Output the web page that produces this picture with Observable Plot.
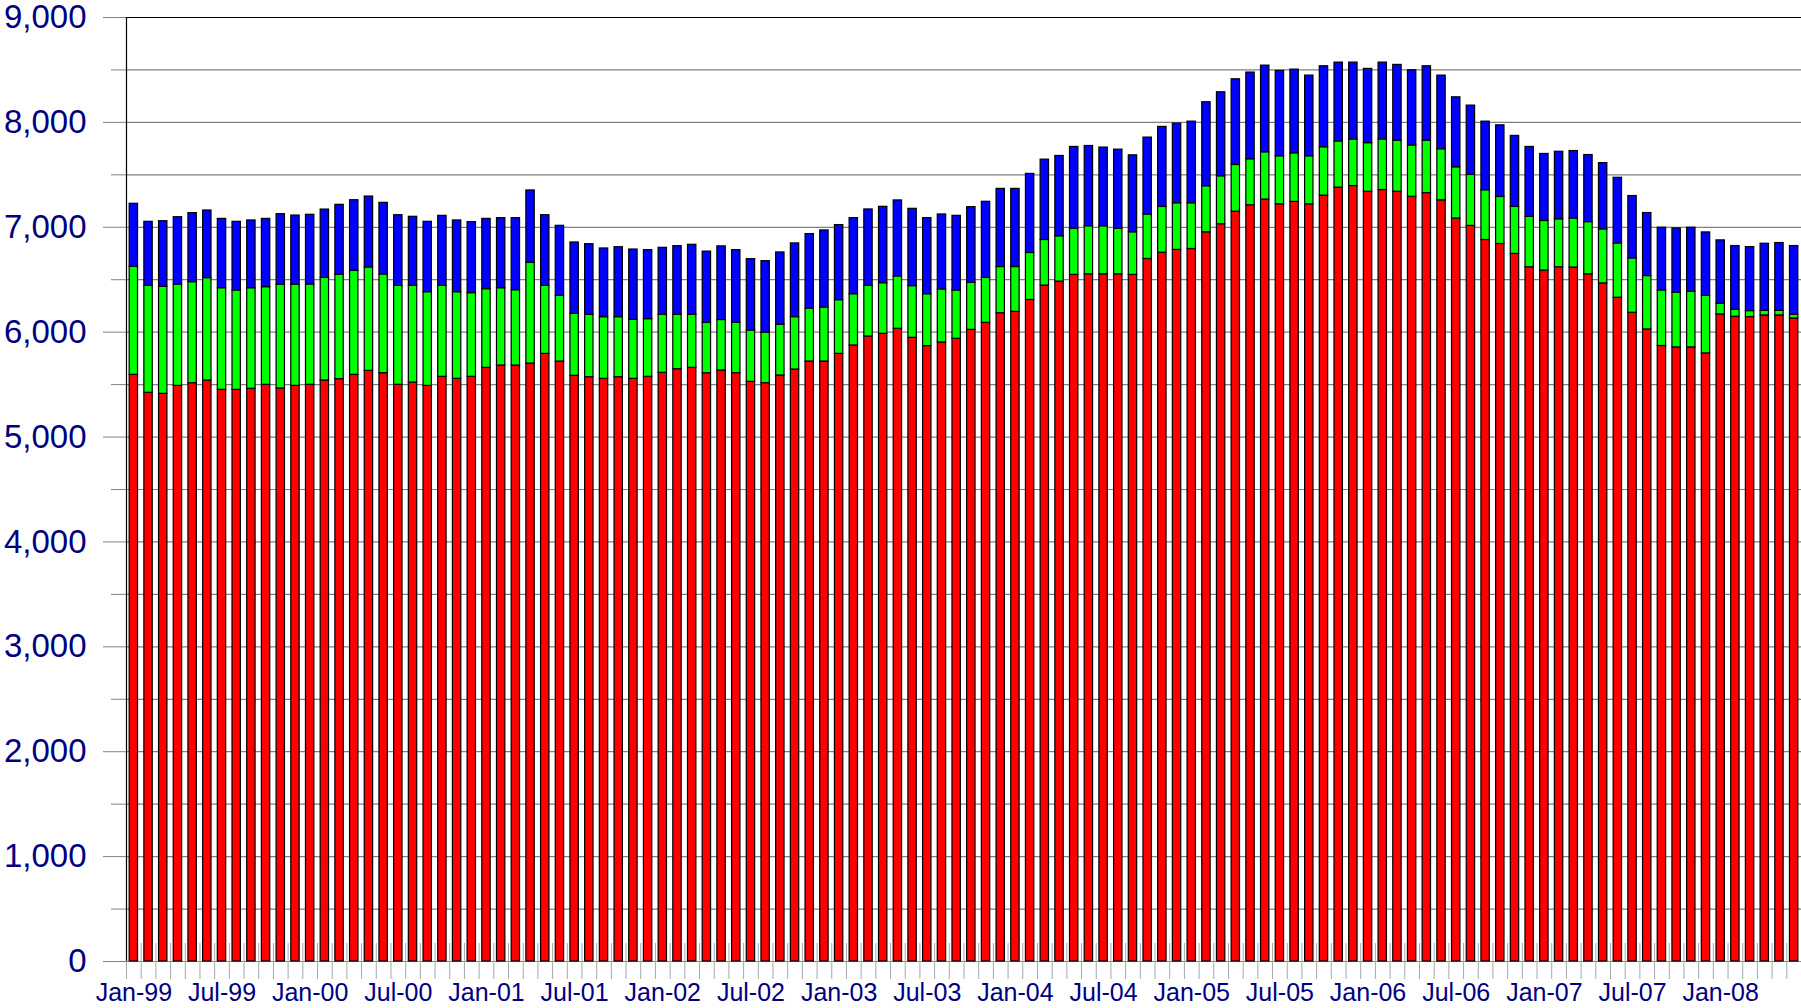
<!DOCTYPE html>
<html>
<head>
<meta charset="utf-8">
<script src="https://cdn.jsdelivr.net/npm/d3@7"></script>
<script src="https://cdn.jsdelivr.net/npm/@observablehq/plot@0.6"></script>
<style>
html,body{margin:0;padding:0;background:#fff;overflow:hidden}
</style>
</head>
<body>
<div id="chart"></div>
<script>
// Categories: Jan-99 .. Jun-08 (114 months)
const monthNames = ["Jan","Feb","Mar","Apr","May","Jun","Jul","Aug","Sep","Oct","Nov","Dec"];
const yearLabels = ["99","00","01","02","03","04","05","06","07","08"];
const months = [];
for (const yr of yearLabels) for (const mn of monthNames) months.push(mn + "-" + yr);
months.length = 114;

// X tick labels (every six months)
const xTickLabels = ["Jan-99","Jul-99","Jan-00","Jul-00","Jan-01","Jul-01","Jan-02","Jul-02","Jan-03","Jul-03","Jan-04","Jul-04","Jan-05","Jul-05","Jan-06","Jul-06","Jan-07","Jul-07","Jan-08"];

// Y ticks
const yMajorTicks = [0,1000,2000,3000,4000,5000,6000,7000,8000,9000];
const yMinorTicks = [500,1500,2500,3500,4500,5500,6500,7500,8500];

// Series (stack order bottom -> top)
const seriesNames = ["Series 1","Series 2","Series 3"];
const seriesColors = ["#ff0000","#00ff00","#0000ff"];

const series1Values = [
5593,5422,5412,5488,5514,5539,5450,5450,5460,5498,5463,5488,
5498,5539,5552,5593,5631,5609,5498,5520,5488,5574,5555,5574,
5660,5682,5682,5701,5793,5720,5584,5571,5555,5571,5555,5574,
5612,5647,5660,5609,5635,5609,5526,5514,5587,5644,5720,5720,
5793,5873,5959,5984,6032,5946,5867,5902,5937,6022,6089,6181,
6194,6307,6444,6482,6546,6552,6552,6552,6546,6698,6758,6784,
6793,6952,7029,7149,7210,7264,7219,7242,7219,7302,7378,7393,
7339,7355,7339,7291,7326,7257,7083,7013,6879,6841,6746,6619,
6587,6619,6616,6552,6465,6328,6185,6026,5868,5855,5855,5798,
6169,6147,6144,6160,6160,6131];

const series2Values = [
1030,1020,1020,966,963,976,969,947,959,931,988,963,
956,979,995,992,986,941,944,922,893,868,826,798,
750,737,718,960,649,626,591,594,588,572,563,550,
553,518,505,479,481,480,490,480,483,499,505,515,
512,489,483,483,499,493,495,505,460,448,429,440,
427,448,435,432,441,458,458,435,406,423,436,445,
436,439,457,445,438,451,458,463,458,461,440,444,
463,482,486,489,499,487,489,486,474,448,448,480,
473,457,467,497,515,518,518,509,530,521,531,549,
102,67,57,44,44,35];

const series3Values = [
601,610,626,642,658,645,661,655,646,651,674,661,
665,651,667,673,676,683,673,658,671,667,684,677,
670,668,687,690,673,668,680,674,655,667,670,658,
639,655,668,680,702,693,680,683,690,703,710,735,
716,725,728,728,725,737,725,715,712,722,725,745,
745,754,766,766,779,765,750,753,734,734,763,759,
778,801,801,817,827,826,814,798,769,772,752,733,
708,733,723,717,710,702,667,661,654,683,677,667,
639,644,644,640,632,626,595,601,598,613,610,604,
604,607,610,639,646,655];

// Table for the library
const rows = [];
months.forEach((m, i) => {
  rows.push({month: m, series: seriesNames[0], value: series1Values[i]});
  rows.push({month: m, series: seriesNames[1], value: series2Values[i]});
  rows.push({month: m, series: seriesNames[2], value: series3Values[i]});
});

const W = 1801, H = 1008;
const mL = 126, mR = 0, mT = 17, mB = 47;
const step = (W - mL - mR) / months.length;
const unitsPerPx = 9000 / (H - mT - mB);
const tickHalf = 18 * unitsPerPx;

const chart = Plot.plot({
  width: W,
  height: H,
  marginLeft: mL,
  marginRight: mR,
  marginTop: mT,
  marginBottom: mB,
  style: {fontFamily: "'Liberation Sans', Arial, sans-serif", background: "#fff", overflow: "visible"},
  x: {type: "band", domain: months, paddingInner: 0.43, paddingOuter: 0.215, label: null},
  y: {domain: [0, 9000], label: null},
  color: {domain: seriesNames, range: seriesColors},
  marks: [
    Plot.ruleY(yMajorTicks.concat(yMinorTicks), {stroke: "#808080", strokeWidth: 1.2}),
    Plot.axisY(yMajorTicks, {label: null, tickSize: 23, tickPadding: 17, tickFormat: d3.format(","), fontSize: 33, stroke: "#808080", fill: "#000080"}),
    Plot.axisY(yMinorTicks, {label: null, tickSize: 15, tickFormat: () => "", stroke: "#808080"}),
    Plot.barY(rows, {x: "month", y: "value", fill: "series", stroke: "#000", strokeWidth: 1.2}),
    Plot.ruleX(months, {x: d => d, dx: -step / 2, y1: tickHalf, y2: -tickHalf, stroke: "#a8a8a8", strokeWidth: 1}),
    Plot.ruleY([9000], {stroke: "#000", strokeWidth: 1.2}),
    Plot.ruleX([months[0]], {x: d => d, dx: -step / 2, y1: 0, y2: 9000, stroke: "#000", strokeWidth: 1.2}),
    Plot.axisX(xTickLabels, {label: null, tickSize: 0, tickPadding: 22, fontSize: 25, fill: "#000080"})
  ]
});

document.getElementById("chart").appendChild(chart);
</script>
</body>
</html>
